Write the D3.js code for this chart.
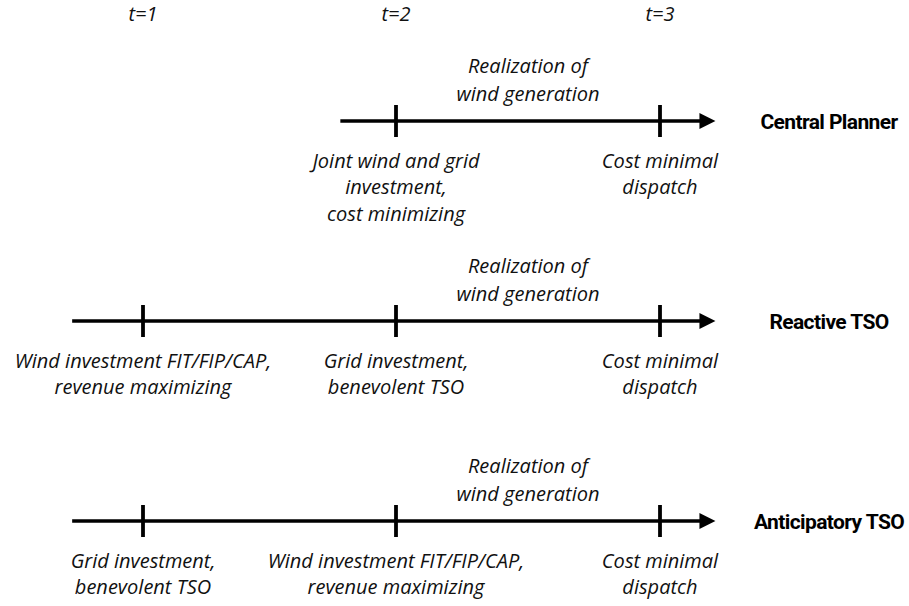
<!DOCTYPE html>
<html><head><meta charset="utf-8">
<script src="https://cdn.jsdelivr.net/npm/d3@7"></script>
<style>
html,body{margin:0;padding:0;background:#fff;}
svg{display:block;}
.lab{font-family:"Open Sans",sans-serif;font-style:italic;font-size:20px;fill:#111;}
.tlab{font-family:"Open Sans",sans-serif;font-style:italic;font-size:20px;fill:#111;}
.row{font-family:"Roboto",sans-serif;font-weight:bold;font-size:21px;fill:#000;letter-spacing:-0.6px;}
</style>
</head><body>
<svg id="chart" width="909" height="606"></svg>
<script>
// ---- data ----
const timeSteps = [1, 2, 3];
const timeLabels = ["t=1", "t=2", "t=3"];
const rows = ["Central Planner", "Reactive TSO", "Anticipatory TSO"];
const lineStart = [1.78, 0.72, 0.72];   // in time units
const lineEnd = 3.21;                     // arrow tip, in time units
const realizationAt = 2.5;
const realizationText = ["Realization of", "wind generation"];
const events = [
  {row: "Central Planner", t: 2, lines: ["Joint wind and grid", "investment,", "cost minimizing"]},
  {row: "Central Planner", t: 3, lines: ["Cost minimal", "dispatch"]},
  {row: "Reactive TSO", t: 1, lines: ["Wind investment FIT/FIP/CAP,", "revenue maximizing"]},
  {row: "Reactive TSO", t: 2, lines: ["Grid investment,", "benevolent TSO"]},
  {row: "Reactive TSO", t: 3, lines: ["Cost minimal", "dispatch"]},
  {row: "Anticipatory TSO", t: 1, lines: ["Grid investment,", "benevolent TSO"]},
  {row: "Anticipatory TSO", t: 2, lines: ["Wind investment FIT/FIP/CAP,", "revenue maximizing"]},
  {row: "Anticipatory TSO", t: 3, lines: ["Cost minimal", "dispatch"]}
];
const rowTicks = [[2, 3], [1, 2, 3], [1, 2, 3]];

// ---- layout ----
const svg = d3.select("#chart");
const x = d3.scaleLinear().domain([1, 2, 3]).range([143, 396, 660]);
const y = d3.scalePoint().domain(rows).range([121, 521]);
const tickHalf = 16, arrowLen = 16, arrowHalf = 8, lineH = 26.5;

// top time labels
svg.selectAll("text.tlab").data(timeSteps).join("text")
  .attr("class", "tlab")
  .attr("x", d => x(d)).attr("y", 13)
  .attr("text-anchor", "middle").attr("dominant-baseline", "central")
  .text((d, i) => timeLabels[i]);

rows.forEach((r, i) => {
  const g = svg.append("g");
  const yy = y(r);
  g.append("line")
    .attr("x1", x(lineStart[i])).attr("x2", x(lineEnd) - arrowLen + 1)
    .attr("y1", yy).attr("y2", yy)
    .attr("stroke", "#000").attr("stroke-width", 3.3);
  const tip = x(lineEnd);
  g.append("path")
    .attr("d", `M${tip},${yy}L${tip - arrowLen},${yy - arrowHalf}L${tip - arrowLen},${yy + arrowHalf}Z`)
    .attr("fill", "#000");
  g.selectAll("line.tk").data(rowTicks[i]).join("line")
    .attr("class", "tk")
    .attr("x1", d => x(d)).attr("x2", d => x(d))
    .attr("y1", yy - tickHalf).attr("y2", yy + tickHalf)
    .attr("stroke", "#000").attr("stroke-width", 3.8);
  realizationText.forEach((t, k) => {
    g.append("text").attr("class", "lab")
      .attr("x", x(realizationAt)).attr("y", yy - 56 + k * 28)
      .attr("text-anchor", "middle").attr("dominant-baseline", "central")
      .text(t);
  });
  g.append("text").attr("class", "row")
    .attr("x", 829).attr("y", yy + 1)
    .attr("text-anchor", "middle").attr("dominant-baseline", "central")
    .text(r);
});

events.forEach(ev => {
  const yy = y(ev.row);
  ev.lines.forEach((t, k) => {
    svg.append("text").attr("class", "lab")
      .attr("x", x(ev.t)).attr("y", yy + 39 + k * lineH)
      .attr("text-anchor", "middle").attr("dominant-baseline", "central")
      .text(t);
  });
});
</script>
</body></html>
